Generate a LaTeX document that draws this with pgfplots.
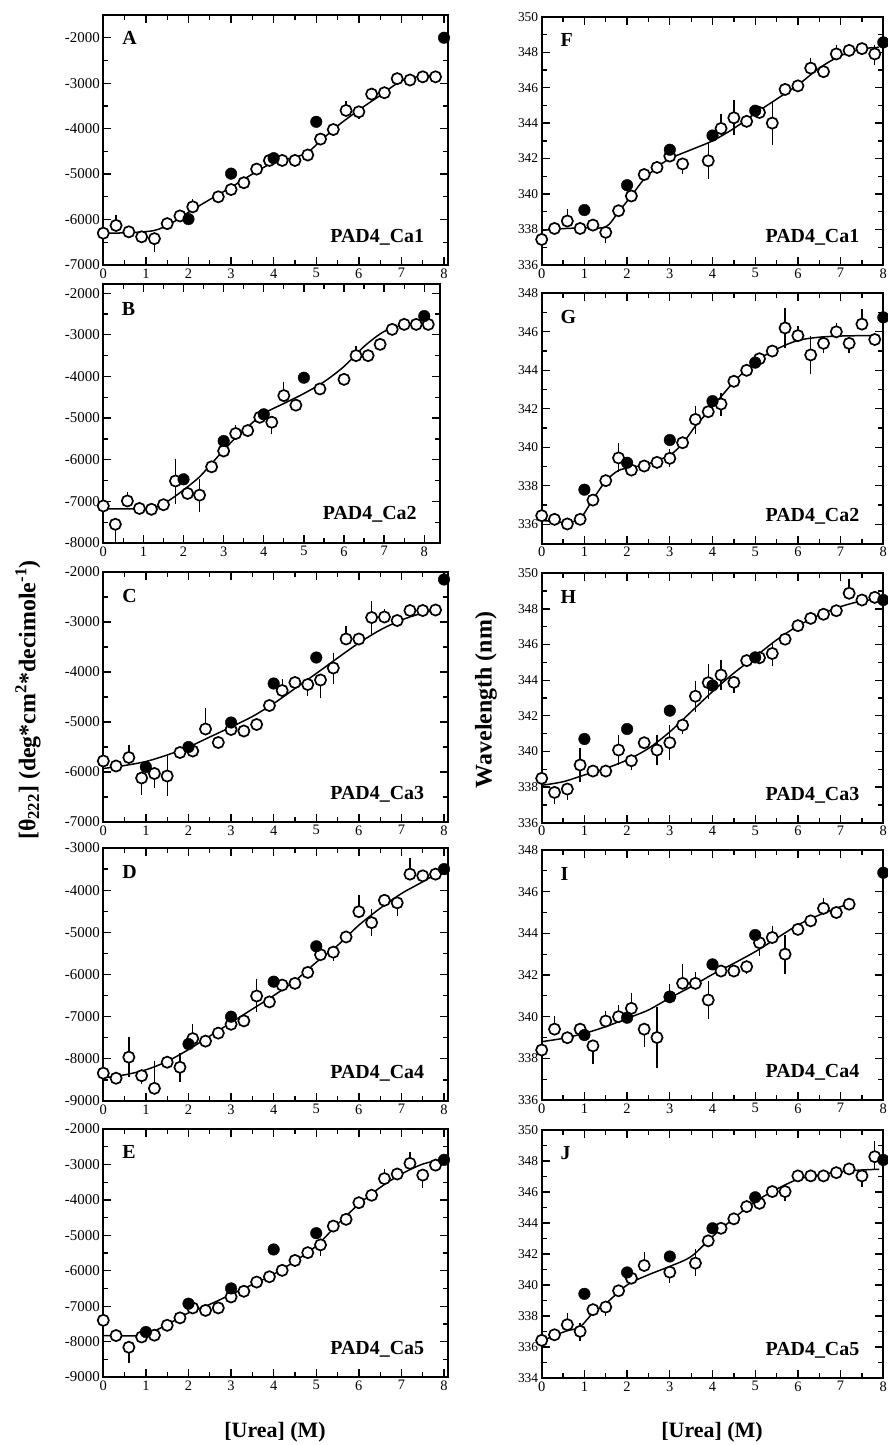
\documentclass[border=0pt]{standalone}
\usepackage{fontspec}
\setmainfont{Liberation Serif}
\usepackage{pgfplots}
\pgfplotsset{compat=1.18}
\pgfplotsset{
 panel/.style={scale only axis, anchor=north west, clip=false,
   axis line style={line width=1.8bp}, tick align=inside, tick pos=both,
   xticklabel pos=lower, yticklabel pos=left,
   major tick length=8bp, minor tick length=5bp,
   tick style={black, line width=1.3bp},
   minor tick num=1, xmin=0, xtick={0,1,...,8},
   xticklabel style={font=\fontsize{14.5}{15}\selectfont},
   /pgf/number format/assume math mode=true,
   /pgf/number format/1000 sep={}},
 lpanel/.style={panel, width=345bp, xmax=8.1, yticklabel style={font=\fontsize{15}{16}\selectfont}},
 rpanel/.style={panel, width=341.6bp, xmax=8, yticklabel style={font=\fontsize{13.5}{14}\selectfont}},
 fit/.style={black, line width=1.5bp, smooth, no markers},
 ebar/.style={only marks, mark=none, error bars/.cd, y dir=both, y explicit, error bar style={black, line width=1.3bp}, error mark options={black, line width=1.3bp, mark size=4bp}},
 opt/.style={only marks, mark=*, mark size=5.6bp, mark options={fill=white, draw=black, line width=1.7bp}},
 fpt/.style={only marks, mark=*, mark size=5.8bp, mark options={fill=black, draw=black, line width=0.4bp}},
}
\newcommand{\pad}[1]{\node[anchor=base east, font=\bfseries\fontsize{20}{22}\selectfont] at (rel axis cs:0.94,0.09) {PAD4\_Ca#1};}
\newcommand{\plab}[1]{\node[anchor=base west, font=\bfseries\fontsize{20}{22}\selectfont] at (rel axis cs:0.045,0.88) {#1};}
\begin{document}
\begin{tikzpicture}
\useasboundingbox (0,0) rectangle (888bp,-1445bp);
% ---------------- A
\begin{axis}[lpanel, at={(103.3bp,-15bp)}, height=250bp, ymin=-7000, ymax=-1500, ytick={-7000,-6000,...,-2000}]
\addplot[fit] table {
0 -6300
0.6 -6290
1.2 -6240
1.6 -6080
2 -5840
2.5 -5560
3 -5290
3.5 -5000
4 -4740
4.5 -4630
4.8 -4520
5.1 -4270
5.5 -3940
6 -3590
6.5 -3270
7 -2950
7.5 -2840
7.8 -2830
};
\addplot[ebar] table[x=x,y=y,y error plus=ep,y error minus=em] {
x y ep em
0 -6300 0 0
0.3 -6130 150 0
0.6 -6270 0 0
0.9 -6380 0 0
1.2 -6420 0 200
1.5 -6090 0 0
1.8 -5920 0 0
2.1 -5720 80 0
2.7 -5500 0 0
3.0 -5340 0 0
3.3 -5190 0 0
3.6 -4890 0 0
3.9 -4700 0 0
4.2 -4700 0 0
4.5 -4700 0 0
4.8 -4580 0 0
5.1 -4230 0 0
5.4 -4020 0 0
5.7 -3600 110 0
6.0 -3630 0 60
6.3 -3240 0 0
6.6 -3210 0 0
6.9 -2900 0 0
7.2 -2930 0 0
7.5 -2860 0 0
7.8 -2860 0 0
};
\addplot[opt] table {
0 -6300
0.3 -6130
0.6 -6270
0.9 -6380
1.2 -6420
1.5 -6090
1.8 -5920
2.1 -5720
2.7 -5500
3.0 -5340
3.3 -5190
3.6 -4890
3.9 -4700
4.2 -4700
4.5 -4700
4.8 -4580
5.1 -4230
5.4 -4020
5.7 -3600
6.0 -3630
6.3 -3240
6.6 -3210
6.9 -2900
7.2 -2930
7.5 -2860
7.8 -2860
};
\addplot[fpt] table {
2 -5990
3 -4990
4 -4650
5 -3850
8 -2000
};
\plab{A}\pad{1}
\end{axis}
% ---------------- B
\begin{axis}[panel, width=337bp, xmax=8.4, yticklabel style={font=\fontsize{15}{16}\selectfont}, at={(103.3bp,-284bp)}, height=259bp, ymin=-8000, ymax=-1780, ytick={-8000,-7000,...,-2000}]
\addplot[fit] table {
0 -7180
0.6 -7180
1.2 -7170
1.5 -7060
1.8 -6870
2.1 -6650
2.4 -6410
2.7 -6090
3.0 -5770
3.3 -5470
3.6 -5210
4.0 -4890
4.5 -4650
5.0 -4410
5.5 -4130
6.0 -3760
6.5 -3280
7.0 -2920
7.5 -2760
8.0 -2720
};
\addplot[ebar] table[x=x,y=y,y error plus=ep,y error minus=em] {
x y ep em
0 -7110 0 0
0.3 -7550 0 340
0.6 -6990 130 0
0.9 -7170 0 0
1.2 -7190 0 0
1.5 -7080 0 0
1.8 -6510 440 450
2.1 -6810 0 0
2.4 -6850 300 320
2.7 -6170 0 0
3.0 -5790 0 0
3.3 -5370 100 0
3.6 -5300 0 0
3.9 -4980 0 0
4.2 -5100 0 190
4.5 -4460 220 0
4.8 -4690 0 0
5.4 -4300 0 0
6.0 -4070 0 0
6.3 -3500 140 0
6.6 -3500 0 0
6.9 -3230 0 0
7.2 -2870 0 0
7.5 -2750 0 0
7.8 -2750 0 0
8.1 -2750 0 0
};
\addplot[opt] table {
0 -7110
0.3 -7550
0.6 -6990
0.9 -7170
1.2 -7190
1.5 -7080
1.8 -6510
2.1 -6810
2.4 -6850
2.7 -6170
3.0 -5790
3.3 -5370
3.6 -5300
3.9 -4980
4.2 -5100
4.5 -4460
4.8 -4690
5.4 -4300
6.0 -4070
6.3 -3500
6.6 -3500
6.9 -3230
7.2 -2870
7.5 -2750
7.8 -2750
8.1 -2750
};
\addplot[fpt] table {
2 -6470
3 -5550
4 -4910
5 -4030
8 -2550
};
\plab{B}\pad{2}
\end{axis}
% ---------------- C
\begin{axis}[lpanel, at={(103.3bp,-572bp)}, height=250bp, ymin=-7000, ymax=-2000, ytick={-7000,-6000,...,-2000}]
\addplot[fit] table {
0 -5930
0.5 -5870
1 -5790
1.5 -5660
2 -5500
2.5 -5300
3 -5100
3.5 -4890
4 -4630
4.5 -4330
5 -4030
5.5 -3720
6 -3420
6.5 -3160
7 -2960
7.5 -2820
7.8 -2770
};
\addplot[ebar] table[x=x,y=y,y error plus=ep,y error minus=em] {
x y ep em
0 -5780 170 170
0.3 -5880 0 0
0.6 -5710 180 0
0.9 -6120 0 250
1.2 -6030 0 200
1.5 -6080 320 320
1.8 -5610 0 0
2.1 -5580 0 0
2.4 -5140 350 0
2.7 -5410 0 0
3.0 -5150 0 0
3.3 -5180 0 0
3.6 -5050 0 50
3.9 -4670 0 0
4.2 -4370 150 0
4.5 -4210 0 0
4.8 -4250 0 150
5.1 -4160 0 270
5.4 -3920 230 230
5.7 -3340 190 0
6.0 -3340 0 0
6.3 -2910 250 250
6.6 -2900 80 0
6.9 -2970 0 0
7.2 -2770 0 0
7.5 -2770 0 0
7.8 -2760 0 40
};
\addplot[opt] table {
0 -5780
0.3 -5880
0.6 -5710
0.9 -6120
1.2 -6030
1.5 -6080
1.8 -5610
2.1 -5580
2.4 -5140
2.7 -5410
3.0 -5150
3.3 -5180
3.6 -5050
3.9 -4670
4.2 -4370
4.5 -4210
4.8 -4250
5.1 -4160
5.4 -3920
5.7 -3340
6.0 -3340
6.3 -2910
6.6 -2900
6.9 -2970
7.2 -2770
7.5 -2770
7.8 -2760
};
\addplot[fpt] table {
1 -5900
2 -5500
3 -5010
4 -4230
5 -3710
8 -2150
};
\plab{C}\pad{3}
\end{axis}
% ---------------- D
\begin{axis}[lpanel, at={(103.3bp,-848bp)}, height=253bp, ymin=-9000, ymax=-3000, ytick={-9000,-8000,...,-3000}]
\addplot[fit] table {
0 -8450
0.5 -8380
1 -8260
1.5 -8060
2 -7780
2.5 -7460
3 -7140
3.5 -6820
4 -6500
4.5 -6150
5 -5710
5.5 -5310
6 -4830
6.5 -4430
7 -4080
7.5 -3800
8 -3500
};
\addplot[ebar] table[x=x,y=y,y error plus=ep,y error minus=em] {
x y ep em
0 -8340 200 200
0.3 -8460 0 0
0.6 -7960 390 380
0.9 -8400 0 100
1.2 -8700 560 0
1.5 -8080 0 0
1.8 -8200 255 260
2.1 -7520 255 0
2.4 -7580 0 0
2.7 -7390 0 0
3.0 -7180 0 0
3.3 -7100 0 0
3.6 -6510 320 280
3.9 -6650 0 0
4.2 -6250 0 0
4.5 -6210 0 0
4.8 -5950 0 0
5.1 -5530 0 0
5.4 -5470 0 120
5.7 -5110 0 0
6.0 -4510 295 0
6.3 -4770 220 220
6.6 -4240 0 0
6.9 -4300 0 215
7.2 -3620 280 0
7.5 -3660 0 0
7.8 -3620 0 0
};
\addplot[opt] table {
0 -8340
0.3 -8460
0.6 -7960
0.9 -8400
1.2 -8700
1.5 -8080
1.8 -8200
2.1 -7520
2.4 -7580
2.7 -7390
3.0 -7180
3.3 -7100
3.6 -6510
3.9 -6650
4.2 -6250
4.5 -6210
4.8 -5950
5.1 -5530
5.4 -5470
5.7 -5110
6.0 -4510
6.3 -4770
6.6 -4240
6.9 -4300
7.2 -3620
7.5 -3660
7.8 -3620
};
\addplot[fpt] table {
2 -7650
3 -7000
4 -6170
5 -5330
8 -3500
};
\plab{D}\pad{4}
\end{axis}
% ---------------- E
\begin{axis}[lpanel, at={(103.3bp,-1129bp)}, height=248bp, ymin=-9000, ymax=-2000, ytick={-9000,-8000,...,-2000}]
\addplot[fit] table {
0 -7830
0.5 -7840
1 -7800
1.5 -7520
2 -7190
2.5 -6950
3 -6670
3.5 -6390
4 -6100
4.5 -5730
5 -5300
5.5 -4690
6 -4120
6.5 -3650
7 -3270
7.5 -2990
8 -2850
};
\addplot[ebar] table[x=x,y=y,y error plus=ep,y error minus=em] {
x y ep em
0 -7400 0 0
0.3 -7830 0 0
0.6 -8160 0 330
0.9 -7870 0 0
1.2 -7820 0 0
1.5 -7540 0 0
1.8 -7330 0 0
2.1 -7050 0 0
2.4 -7120 0 0
2.7 -7050 0 0
3.0 -6740 0 0
3.3 -6580 0 0
3.6 -6320 0 0
3.9 -6170 0 0
4.2 -5990 0 0
4.5 -5710 0 0
4.8 -5490 0 0
5.1 -5270 0 200
5.4 -4740 0 0
5.7 -4550 0 0
6.0 -4080 0 0
6.3 -3870 0 0
6.6 -3400 170 0
6.9 -3270 0 0
7.2 -2970 220 0
7.5 -3300 0 250
7.8 -3020 0 0
};
\addplot[opt] table {
0 -7400
0.3 -7830
0.6 -8160
0.9 -7870
1.2 -7820
1.5 -7540
1.8 -7330
2.1 -7050
2.4 -7120
2.7 -7050
3.0 -6740
3.3 -6580
3.6 -6320
3.9 -6170
4.2 -5990
4.5 -5710
4.8 -5490
5.1 -5270
5.4 -4740
5.7 -4550
6.0 -4080
6.3 -3870
6.6 -3400
6.9 -3270
7.2 -2970
7.5 -3300
7.8 -3020
};
\addplot[fpt] table {
1 -7730
2 -6930
3 -6500
4 -5400
5 -4940
8 -2870
};
\plab{E}\pad{5}
\end{axis}
% ---------------- F
\begin{axis}[rpanel, at={(541.7bp,-16.7bp)}, height=248.3bp, ymin=336, ymax=350, ytick={336,338,...,350}]
\addplot[fit] table {
0 337.95
0.5 338.05
1 338.1
1.5 338.15
1.8 339.0
2.1 339.9
2.4 340.85
2.7 341.5
3.0 342.0
3.5 342.5
4 343.0
4.5 343.7
5 344.55
5.5 345.35
6 346.15
6.5 347.1
7 347.8
7.5 348.18
7.9 348.27
};
\addplot[ebar] table[x=x,y=y,y error plus=ep,y error minus=em] {
x y ep em
0 337.44 0 0.5
0.3 338.06 0 0
0.6 338.48 0.45 0
0.9 338.06 0 0
1.2 338.25 0 0
1.5 337.84 0 0.4
1.8 339.06 0 0
2.1 339.89 0 0
2.4 341.1 0 0
2.7 341.5 0 0
3.0 342.14 0 0
3.3 341.7 0 0.35
3.9 341.88 0.8 0.8
4.2 343.7 0.6 0
4.5 344.3 0.75 0.75
4.8 344.1 0 0
5.1 344.6 0 0
5.4 344.0 1.0 1.0
5.7 345.9 0 0
6.0 346.1 0 0
6.3 347.1 0.35 0
6.6 346.9 0 0
6.9 347.9 0.3 0
7.2 348.1 0 0
7.5 348.2 0 0
7.8 347.9 0.3 0.4
};
\addplot[opt] table {
0 337.44
0.3 338.06
0.6 338.48
0.9 338.06
1.2 338.25
1.5 337.84
1.8 339.06
2.1 339.89
2.4 341.1
2.7 341.5
3.0 342.14
3.3 341.7
3.9 341.88
4.2 343.7
4.5 344.3
4.8 344.1
5.1 344.6
5.4 344.0
5.7 345.9
6.0 346.1
6.3 347.1
6.6 346.9
6.9 347.9
7.2 348.1
7.5 348.2
7.8 347.9
};
\addplot[fpt] table {
1 339.1
2 340.5
3 342.5
4 343.3
5 344.7
8 348.55
};
\plab{F}\pad{1}
\end{axis}
% ---------------- G
\begin{axis}[rpanel, at={(541.7bp,-293.3bp)}, height=250.3bp, ymin=335, ymax=348, ytick={336,338,...,348}]
\addplot[fit] table {
0 336.2
0.3 336.15
0.6 336.1
0.9 336.3
1.2 337.3
1.5 338.25
1.8 338.8
2.1 338.95
2.5 339.15
3.0 339.6
3.3 340.2
3.6 341.1
4.0 342.1
4.5 343.4
5.0 344.45
5.5 345.1
6.0 345.55
6.5 345.72
7.0 345.78
7.5 345.8
7.9 345.8
};
\addplot[ebar] table[x=x,y=y,y error plus=ep,y error minus=em] {
x y ep em
0 336.45 0.2 0
0.3 336.26 0 0
0.6 336.02 0 0
0.9 336.26 0 0
1.2 337.26 0 0
1.5 338.27 0.1 0.1
1.8 339.45 0.57 0.5
2.1 338.82 0 0
2.4 339.03 0 0
2.7 339.22 0 0
3.0 339.43 0.25 0.25
3.3 340.24 0 0
3.6 341.45 0.5 0.55
3.9 341.85 0 0
4.2 342.25 0.35 0.4
4.5 343.43 0 0
4.8 344.0 0 0
5.1 344.6 0 0
5.4 345.0 0 0
5.7 346.2 0.85 0.85
6.0 345.8 0.3 0
6.3 344.8 0.8 0.8
6.6 345.4 0 0.3
6.9 346.0 0.25 0
7.2 345.4 0 0.3
7.5 346.4 0.6 0
7.8 345.6 0 0
};
\addplot[opt] table {
0 336.45
0.3 336.26
0.6 336.02
0.9 336.26
1.2 337.26
1.5 338.27
1.8 339.45
2.1 338.82
2.4 339.03
2.7 339.22
3.0 339.43
3.3 340.24
3.6 341.45
3.9 341.85
4.2 342.25
4.5 343.43
4.8 344.0
5.1 344.6
5.4 345.0
5.7 346.2
6.0 345.8
6.3 344.8
6.6 345.4
6.9 346.0
7.2 345.4
7.5 346.4
7.8 345.6
};
\addplot[fpt] table {
1 337.8
2 339.2
3 340.38
4 342.4
5 344.4
8 346.75
};
\plab{G}\pad{2}
\end{axis}
% ---------------- H
\begin{axis}[rpanel, at={(541.7bp,-573.3bp)}, height=249.4bp, ymin=336, ymax=350, ytick={336,338,...,350}]
\addplot[fit] table {
0 338.1
0.5 338.3
1 338.68
1.5 339.05
2 339.52
2.5 340.17
3 341.1
3.5 342.23
4 343.36
4.5 344.4
5 345.32
5.5 346.26
6 347.05
6.5 347.66
7 348.13
7.5 348.45
7.9 348.54
};
\addplot[ebar] table[x=x,y=y,y error plus=ep,y error minus=em] {
x y ep em
0 338.49 0.4 0
0.3 337.7 0 0.4
0.6 337.89 0 0.4
0.9 339.24 0.75 0.75
1.2 338.9 0 0
1.5 338.9 0 0
1.8 340.08 0.6 0.6
2.1 339.48 0 0.3
2.4 340.49 0 0
2.7 340.08 0.6 0.6
3.0 340.49 0.77 0.75
3.3 341.48 0 0.3
3.6 343.1 0.65 0.65
3.9 343.86 0.85 0.7
4.2 344.29 0.6 0.6
4.5 343.88 0 0.37
4.8 345.1 0 0
5.1 345.26 0 0
5.4 345.5 0.4 0.47
5.7 346.3 0 0
6.0 347.06 0 0
6.3 347.47 0 0
6.6 347.7 0 0
6.9 347.9 0 0
7.2 348.88 0.56 0
7.5 348.5 0 0
7.8 348.65 0 0
};
\addplot[opt] table {
0 338.49
0.3 337.7
0.6 337.89
0.9 339.24
1.2 338.9
1.5 338.9
1.8 340.08
2.1 339.48
2.4 340.49
2.7 340.08
3.0 340.49
3.3 341.48
3.6 343.1
3.9 343.86
4.2 344.29
4.5 343.88
4.8 345.1
5.1 345.26
5.4 345.5
5.7 346.3
6.0 347.06
6.3 347.47
6.6 347.7
6.9 347.9
7.2 348.88
7.5 348.5
7.8 348.65
};
\addplot[fpt] table {
1 340.7
2 341.26
3 342.29
4 343.7
5 345.28
8 348.5
};
\plab{H}\pad{3}
\end{axis}
% ---------------- I
\begin{axis}[rpanel, at={(541.7bp,-850bp)}, height=250bp, ymin=336, ymax=348, ytick={336,338,...,348}]
\addplot[fit] table {
0 338.8
0.5 338.96
1 339.2
1.5 339.52
2 339.92
2.5 340.32
3 340.9
3.5 341.44
4 342.03
4.5 342.56
5 343.12
5.5 343.76
6 344.4
6.5 344.88
7 345.28
7.2 345.4
};
\addplot[ebar] table[x=x,y=y,y error plus=ep,y error minus=em] {
x y ep em
0 338.4 0 0
0.3 339.4 0.46 0
0.6 338.99 0 0
0.9 339.4 0.1 0
1.2 338.6 0 0.7
1.5 339.79 0.3 0
1.8 340.0 0.35 0
2.1 340.4 0.56 0
2.4 339.4 0 0.66
2.7 339.0 1.28 1.28
3.0 340.95 0.45 0
3.3 341.6 0.72 0
3.6 341.6 0.37 0
3.9 340.8 0.72 0.72
4.2 342.19 0 0
4.5 342.19 0 0
4.8 342.4 0 0.15
5.1 343.55 0 0.43
5.4 343.8 0.37 0
5.7 343.0 0.75 0.75
6.0 344.19 0 0
6.3 344.6 0 0
6.6 345.2 0.3 0
6.9 345.0 0 0
7.2 345.4 0 0
};
\addplot[opt] table {
0 338.4
0.3 339.4
0.6 338.99
0.9 339.4
1.2 338.6
1.5 339.79
1.8 340.0
2.1 340.4
2.4 339.4
2.7 339.0
3.0 340.95
3.3 341.6
3.6 341.6
3.9 340.8
4.2 342.19
4.5 342.19
4.8 342.4
5.1 343.55
5.4 343.8
5.7 343.0
6.0 344.19
6.3 344.6
6.6 345.2
6.9 345.0
7.2 345.4
};
\addplot[fpt] table {
1 339.12
2 339.95
3 340.96
4 342.51
5 343.92
8 346.91
};
\plab{I}\pad{4}
\end{axis}
% ---------------- J
\begin{axis}[rpanel, at={(541.7bp,-1130bp)}, height=248bp, ymin=334, ymax=350, ytick={334,336,...,350}]
\addplot[fit] table {
0 336.36
0.3 336.75
0.6 337.05
0.9 337.3
1.2 338.2
1.5 338.8
2 340.0
2.5 340.66
3 341.2
3.5 341.84
4 343.13
4.5 344.31
5 345.38
5.5 346.18
6 346.82
6.5 347.1
7 347.32
7.5 347.42
7.9 347.47
};
\addplot[ebar] table[x=x,y=y,y error plus=ep,y error minus=em] {
x y ep em
0 336.43 0 0
0.3 336.79 0 0
0.6 337.44 0.47 0
0.9 337.01 0.3 0.37
1.2 338.41 0 0
1.5 338.58 0 0.35
1.8 339.63 0 0
2.1 340.44 0 0
2.4 341.26 0.58 0
3.0 340.83 0 0.45
3.6 341.41 0.64 0.58
3.9 342.85 0 0
4.2 343.66 0 0
4.5 344.27 0 0
4.8 345.06 0 0
5.1 345.27 0 0
5.4 346.03 0 0
5.7 346.03 0 0.37
6.0 347.04 0 0
6.3 347.04 0 0
6.6 347.04 0 0
6.9 347.25 0 0
7.2 347.49 0 0
7.5 347.04 0 0.43
7.8 348.28 0.75 0.6
};
\addplot[opt] table {
0 336.43
0.3 336.79
0.6 337.44
0.9 337.01
1.2 338.41
1.5 338.58
1.8 339.63
2.1 340.44
2.4 341.26
3.0 340.83
3.6 341.41
3.9 342.85
4.2 343.66
4.5 344.27
4.8 345.06
5.1 345.27
5.4 346.03
5.7 346.03
6.0 347.04
6.3 347.04
6.6 347.04
6.9 347.25
7.2 347.49
7.5 347.04
7.8 348.28
};
\addplot[fpt] table {
1 339.43
2 340.81
3 341.84
4 343.66
5 345.66
8 348.07
};
\plab{J}\pad{5}
\end{axis}
% ---------------- axis titles
\node[rotate=90, font=\bfseries\fontsize{24}{26}\selectfont] at (28bp,-700bp) {[θ\textsubscript{222}] (deg*cm\textsuperscript{2}*decimole\textsuperscript{-1})};
\node[rotate=90, font=\bfseries\fontsize{24}{26}\selectfont] at (486bp,-700bp) {Wavelength (nm)};
\node[font=\bfseries\fontsize{22}{24}\selectfont] at (275bp,-1432bp) {[Urea] (M)};
\node[font=\bfseries\fontsize{22}{24}\selectfont] at (712bp,-1432bp) {[Urea] (M)};
\end{tikzpicture}
\end{document}
